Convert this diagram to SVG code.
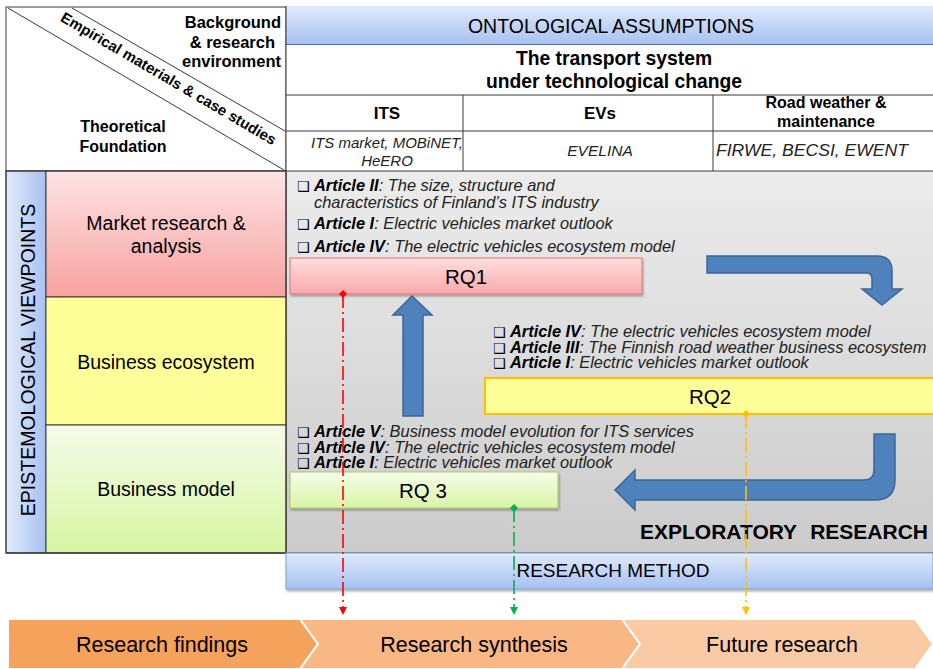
<svg xmlns="http://www.w3.org/2000/svg" width="933" height="669" viewBox="0 0 933 669">
<defs>
<linearGradient id="gBlue" x1="0" y1="0" x2="0" y2="1"><stop offset="0" stop-color="#e0eafc"/><stop offset="1" stop-color="#a6c1f2"/></linearGradient>
<linearGradient id="gBlueH" x1="0" y1="0" x2="1" y2="0"><stop offset="0" stop-color="#e2ebfb"/><stop offset="1" stop-color="#a7c1f1"/></linearGradient>
<linearGradient id="gRed" x1="0" y1="0" x2="0" y2="1"><stop offset="0" stop-color="#fde4e4"/><stop offset="1" stop-color="#f7a19f"/></linearGradient>
<linearGradient id="gGreen" x1="0" y1="0" x2="0" y2="1"><stop offset="0" stop-color="#f5fcea"/><stop offset="1" stop-color="#d7f5a2"/></linearGradient>
<linearGradient id="gGray" x1="0" y1="0" x2="0" y2="1"><stop offset="0" stop-color="#ececec"/><stop offset="1" stop-color="#cbcbcb"/></linearGradient>
<linearGradient id="gRQ1" x1="0" y1="0" x2="0" y2="1"><stop offset="0" stop-color="#ffdede"/><stop offset="1" stop-color="#f8a9a9"/></linearGradient>
<linearGradient id="gRQ3" x1="0" y1="0" x2="0" y2="1"><stop offset="0" stop-color="#f6fde9"/><stop offset="1" stop-color="#d9f4a6"/></linearGradient>
<filter id="sh" x="-5%" y="-20%" width="110%" height="150%"><feDropShadow dx="1" dy="2" stdDeviation="1.2" flood-color="#000" flood-opacity="0.3"/></filter>
</defs>
<style>
text{font-family:"Liberation Sans",Arial,sans-serif;fill:#000}
.b{font-weight:bold}
.i{font-style:italic;fill:#222}
.c{text-anchor:middle}
.ln{stroke:#3a3a3a;stroke-width:1}
.nf{fill:none}
.art{font-size:16.4px;font-style:italic;fill:#222}
.art tspan.k{font-weight:bold;fill:#000}
.bx{font-family:"DejaVu Sans",sans-serif;font-size:14px;font-style:normal;fill:#000}
.arrow{fill:#4f81bd;stroke:#3c6696;stroke-width:1.5}
.dd{stroke-width:1.6;fill:none;stroke-dasharray:14 4 2 4}
</style>

<g id="corner">
<rect x="6" y="7" width="280" height="164" fill="#fff" class="ln"/>
<line x1="8" y1="8" x2="284" y2="170" class="ln"/>
<line x1="72" y1="8" x2="285" y2="131" class="ln"/>
<text class="b" font-size="15" transform="translate(166,83) rotate(30.4)" text-anchor="middle">Empirical materials &amp; case studies</text>
<text class="b" font-size="16.5" text-anchor="end" x="281" y="28">Background</text>
<text class="b" font-size="16.5" text-anchor="end" x="275" y="48">&amp; research</text>
<text class="b" font-size="16.5" text-anchor="end" x="281" y="67">environment</text>
<text class="b c" font-size="16" x="123" y="132">Theoretical</text>
<text class="b c" font-size="16" x="123" y="152">Foundation</text>
</g>

<g id="ontological">
<rect x="286" y="6" width="647" height="39" fill="url(#gBlue)"/>
<line x1="286" y1="45" x2="933" y2="45" stroke="#2f4f7f" stroke-width="1.5"/>
<text class="c" font-size="19.5" x="611" y="33">ONTOLOGICAL ASSUMPTIONS</text>
</g>

<g id="transport">
<rect x="286" y="45" width="647" height="126" fill="#fff"/>
<text class="b c" font-size="19.3" x="614" y="65">The transport system</text>
<text class="b c" font-size="19.3" x="614" y="88">under technological change</text>
<line x1="286" y1="95" x2="933" y2="95" class="ln"/>
<line x1="286" y1="131" x2="933" y2="131" class="ln"/>
<line x1="463" y1="95" x2="463" y2="171" class="ln"/>
<line x1="713" y1="95" x2="713" y2="171" class="ln"/>
</g>

<g id="col-its">
<text class="b c" font-size="17" x="387" y="119">ITS</text>
<text class="i c" font-size="15" x="387" y="148">ITS market, MOBiNET,</text>
<text class="i c" font-size="15" x="387" y="166">HeERO</text>
</g>
<g id="col-evs">
<text class="b c" font-size="17" x="600" y="119">EVs</text>
<text class="i c" font-size="15.5" x="600" y="156">EVELINA</text>
</g>
<g id="col-road">
<text class="b c" font-size="16" x="826" y="108">Road weather &amp;</text>
<text class="b c" font-size="16" x="826" y="127">maintenance</text>
<text class="i c" font-size="16" x="812" y="156" textLength="192" lengthAdjust="spacingAndGlyphs">FIRWE, BECSI, EWENT</text>
</g>

<g id="main-area">
<rect x="286" y="171" width="647" height="382" fill="url(#gGray)"/>
<line x1="286" y1="171" x2="933" y2="171" class="ln"/>
<line x1="286" y1="6" x2="286" y2="553" class="ln"/>
</g>

<g id="epistemological">
<rect x="6" y="171" width="40" height="382" fill="url(#gBlueH)" class="ln"/>
<text class="c" font-size="19.5" transform="translate(35,360) rotate(-90)">EPISTEMOLOGICAL VIEWPOINTS</text>
</g>
<g id="market-research">
<rect x="46" y="171" width="240" height="126" fill="url(#gRed)" class="ln"/>
<text class="c" font-size="19.5" x="166" y="230">Market research &amp;</text>
<text class="c" font-size="19.5" x="166" y="253">analysis</text>
</g>
<g id="business-ecosystem">
<rect x="46" y="297" width="240" height="128" fill="#ffff99" class="ln"/>
<text class="c" font-size="19.5" x="166" y="369">Business ecosystem</text>
</g>
<g id="business-model">
<rect x="46" y="425" width="240" height="128" fill="url(#gGreen)" class="ln"/>
<text class="c" font-size="19.5" x="166" y="496">Business model</text>
</g>
<rect x="6" y="171" width="280" height="382" class="ln nf"/>
<line x1="6" y1="553" x2="933" y2="553" class="ln"/>

<g id="articles-rq1">
<text class="art" x="297" y="191"><tspan class="bx">❑</tspan><tspan x="314" class="k">Article II</tspan>: The size, structure  and</text>
<text class="art" x="314" y="208">characteristics of Finland’s ITS industry</text>
<text class="art" x="297" y="229"><tspan class="bx">❑</tspan><tspan x="314" class="k">Article I</tspan>: Electric vehicles market outlook</text>
<text class="art" x="297" y="252"><tspan class="bx">❑</tspan><tspan x="314" class="k">Article IV</tspan>: The electric vehicles ecosystem model</text>
</g>
<g id="articles-rq2">
<text class="art" x="493" y="337"><tspan class="bx">❑</tspan><tspan x="510" class="k">Article IV</tspan>: The electric vehicles ecosystem model</text>
<text class="art" x="493" y="353"><tspan class="bx">❑</tspan><tspan x="510" class="k">Article III</tspan>: The Finnish road weather  business ecosystem</text>
<text class="art" x="493" y="368"><tspan class="bx">❑</tspan><tspan x="510" class="k">Article I</tspan>: Electric vehicles market outlook</text>
</g>
<g id="articles-rq3">
<text class="art" x="297" y="437"><tspan class="bx">❑</tspan><tspan x="314" class="k">Article V</tspan>: Business model evolution for ITS services</text>
<text class="art" x="297" y="453"><tspan class="bx">❑</tspan><tspan x="314" class="k">Article IV</tspan>: The electric vehicles ecosystem model</text>
<text class="art" x="297" y="468"><tspan class="bx">❑</tspan><tspan x="314" class="k">Article I</tspan>: Electric vehicles market outlook</text>
</g>

<g id="rq1">
<rect x="290" y="258" width="352" height="36" fill="url(#gRQ1)" stroke="#e07474" stroke-width="1" filter="url(#sh)"/>
<text class="c" font-size="20.5" x="466" y="284">RQ1</text>
</g>
<g id="rq2">
<rect x="485" y="378" width="452" height="36" fill="#ffff99" stroke="#ffc000" stroke-width="2"/>
<text class="c" font-size="20.5" x="710" y="404">RQ2</text>
</g>
<g id="rq3">
<rect x="290" y="472" width="268" height="36" fill="url(#gRQ3)" stroke="#a6c86a" stroke-width="1" filter="url(#sh)"/>
<text class="c" font-size="20.5" x="423" y="498">RQ 3</text>
</g>

<g id="blue-arrows">
<path class="arrow" d="M707,256 H877 Q892,256 892,271 V289 H902 L882,305 L862,289 H872 V279 Q872,273 866,273 H707 Z"/>
<path class="arrow" d="M403,416 V315 H393 L412,296 L432,315 H423 V416 Z"/>
<path class="arrow" d="M874,434 H895 V480 Q895,500 875,500 H635 V510 L615,490 L635,470 V480 H864 Q874,480 874,470 Z"/>
</g>

<g id="exploratory">
<text class="b" font-size="21" x="640" y="539">EXPLORATORY</text>
<text class="b" font-size="21" text-anchor="end" x="928" y="539">RESEARCH</text>
</g>

<g id="research-method">
<rect x="286" y="553" width="647" height="36" fill="url(#gBlue)" stroke="#7f9fd0" stroke-width="1" filter="url(#sh)"/>
<text class="c" font-size="19" x="613" y="577">RESEARCH METHOD</text>
</g>

<g id="connectors">
<line x1="343" y1="294" x2="343" y2="607" stroke="#ff0000" class="dd"/>
<line x1="514" y1="508" x2="514" y2="607" stroke="#00b050" class="dd"/>
<line x1="746" y1="414" x2="746" y2="607" stroke="#ffc000" class="dd"/>
<path d="M339,607 H347 L343,615 Z" fill="#ff0000"/>
<path d="M510,607 H518 L514,615 Z" fill="#00b050"/>
<path d="M742,607 H750 L746,615 Z" fill="#ffc000"/>
<path d="M343,290 L347,294 L343,298 L339,294 Z" fill="#ff0000"/>
<path d="M514,504 L518,508 L514,512 L510,508 Z" fill="#00b050"/>
<path d="M746,410 L750,414 L746,418 L742,414 Z" fill="#ffc000"/>
</g>

<g id="research-findings">
<path d="M8,619 H300 L318,644 L300,669 H8 Z" fill="#f5a25d" stroke="#fff" stroke-width="2"/>
<text class="c" font-size="21.5" x="162" y="652">Research findings</text>
</g>
<g id="research-synthesis">
<path d="M300,619 H622 L640,644 L622,669 H300 L318,644 Z" fill="#f8b785" stroke="#fff" stroke-width="2"/>
<text class="c" font-size="21.5" x="474" y="652">Research synthesis</text>
</g>
<g id="future-research">
<path d="M622,619 H915 L933,644 L915,669 H622 L640,644 Z" fill="#facaa5" stroke="#fff" stroke-width="2"/>
<text class="c" font-size="21.5" x="782" y="652">Future research</text>
</g>
</svg>
